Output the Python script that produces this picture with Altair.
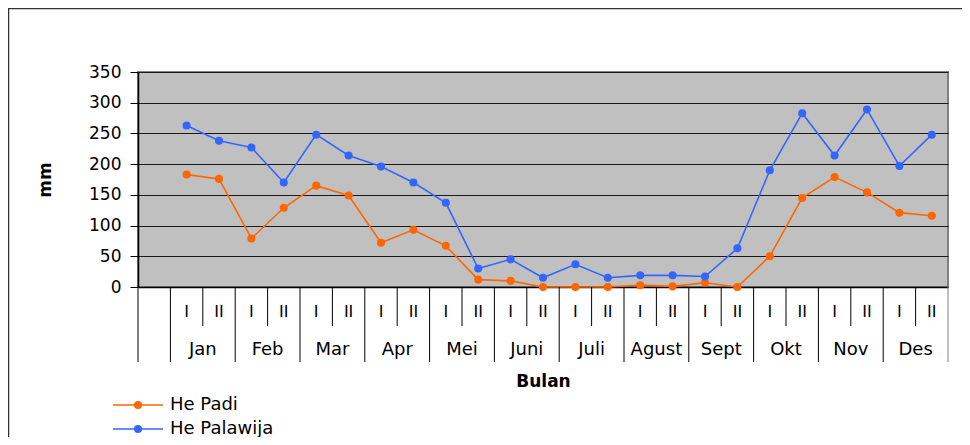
import altair as alt
import pandas as pd

months = ["Jan", "Feb", "Mar", "Apr", "Mei", "Juni", "Juli", "Agust", "Sept", "Okt", "Nov", "Des"]
halves = ["I", "II"]
series_names = ["He Padi", "He Palawija"]
series_colors = ["#FF6600", "#3366FF"]
padi = [183, 176, 79, 129, 165, 149, 72, 93, 67, 12, 10, 0,
        0, 0, 3, 1, 7, 0, 50, 145, 179, 154, 121, 116]
palawija = [263, 238, 227, 170, 248, 214, 196, 170, 137, 30, 45, 15,
            37, 15, 19, 19, 17, 63, 190, 283, 214, 289, 197, 248]
y_ticks = [0, 50, 100, 150, 200, 250, 300, 350]

FONT = "DejaVu Sans"
W, H = 810, 215
n_slots = 1 + 2 * len(months)  # first category slot is blank

rows = []
for name, vals in zip(series_names, [padi, palawija]):
    for i, v in enumerate(vals):
        rows.append({"series": name, "x": 1 + i + 0.5, "value": v})
df = pd.DataFrame(rows)

half_df = pd.DataFrame([{"x": 1 + i + 0.5, "label": halves[i % 2]} for i in range(2 * len(months))])
month_df = pd.DataFrame([{"x": 1 + 2 * m + 1, "label": mo} for m, mo in enumerate(months)])
bounds = pd.DataFrame([{"x": b, "long": bool(b == 0 or b % 2 == 1)} for b in range(n_slots + 1)])

xs = alt.Scale(domain=[0, n_slots], nice=False, zero=False)
xaxis = alt.Axis(labels=False, ticks=False, grid=False, title="Bulan", domainColor="black",
                 domainWidth=1.5, titleFont=FONT, titleFontSize=17, titleFontWeight="bold",
                 titleColor="black", titleY=94, titleBaseline="middle")
X = alt.X("x:Q", scale=xs, axis=xaxis)

ys = alt.Scale(domain=[0, 350], nice=False, zero=True)
yaxis = alt.Axis(values=y_ticks, title="mm", grid=True, gridColor="#1a1a1a", gridWidth=1.2,
                 tickSize=8, tickColor="black", domainColor="black", domainWidth=1.5,
                 labelFont=FONT, labelFontSize=17, labelColor="black", labelPadding=9,
                 titleFont=FONT, titleFontSize=17, titleFontWeight="bold", titleColor="black",
                 titleX=-93, titleY=H / 2, titleAngle=-90, titleBaseline="middle", titleAlign="center")

color = alt.Color("series:N", scale=alt.Scale(domain=series_names, range=series_colors), legend=None)

base = alt.Chart(df).encode(x=X, y=alt.Y("value:Q", scale=ys, axis=yaxis), color=color)
lines = base.mark_line(strokeWidth=1.6)
points = base.mark_point(filled=True, size=65, opacity=1)

short_sep = alt.Chart(bounds).transform_filter("!datum.long").mark_rule(color="black", strokeWidth=1).encode(
    x=X, y=alt.value(H), y2=alt.value(H + 39))
long_sep = alt.Chart(bounds).transform_filter("datum.long").mark_rule(strokeWidth=1).encode(
    x=X, y=alt.value(H), y2=alt.value(H + 75),
    color=alt.when(alt.datum.x == n_slots).then(alt.value("#808080")).otherwise(alt.value("black")))

half_text = alt.Chart(half_df).mark_text(font=FONT, fontSize=16, color="black", baseline="middle").encode(
    x=X, y=alt.value(H + 25), text="label:N")
month_text = alt.Chart(month_df).mark_text(font=FONT, fontSize=18, color="black", baseline="middle").encode(
    x=X, y=alt.value(H + 63), text="label:N")

# outer chart frame: top and left edges only are visible in the reference
frame_top = alt.Chart(pd.DataFrame({"k": [0]})).mark_rule(color="#333333", strokeWidth=1.5).encode(
    x=alt.value(-130), x2=alt.value(W + 14), y=alt.value(-63.5))
frame_left = alt.Chart(pd.DataFrame({"k": [0]})).mark_rule(color="#333333", strokeWidth=1.5).encode(
    x=alt.value(-129.5), y=alt.value(-64), y2=alt.value(H + 150))

legend_layers = []
for i, (name, col) in enumerate(zip(series_names, series_colors)):
    ld = pd.DataFrame({"series": [name]})
    yy = 333 + 24 * i
    legend_layers.append(alt.Chart(ld).mark_rule(color=col, strokeWidth=1.6).encode(
        x=alt.value(-25), x2=alt.value(25), y=alt.value(yy)))
    legend_layers.append(alt.Chart(ld).mark_point(filled=True, size=65, color=col, opacity=1).encode(
        x=alt.value(0), y=alt.value(yy)))
    legend_layers.append(alt.Chart(ld).mark_text(font=FONT, fontSize=18, color="black", align="left",
                                                 baseline="middle").encode(
        x=alt.value(32), y=alt.value(yy), text="series:N"))

chart = alt.layer(lines, points, short_sep, long_sep, half_text, month_text, frame_top, frame_left,
                  *legend_layers).properties(
    width=W, height=H,
    autosize=alt.AutoSizeParams(type="none"),
    padding={"left": 130, "top": 64, "right": 14, "bottom": 150},
).configure(background="white").configure_view(fill="#c0c0c0", stroke="#808080", strokeWidth=2)

chart.save("out.html", embed_options={"renderer": "svg", "actions": False})
